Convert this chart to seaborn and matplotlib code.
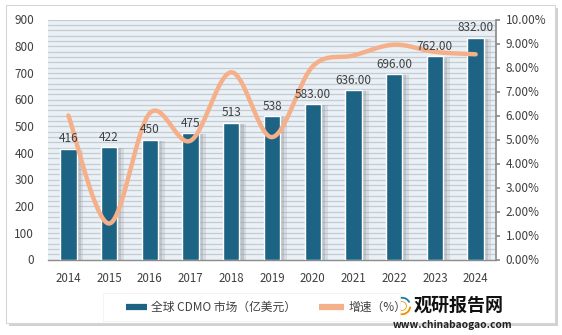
import numpy as np
import pandas as pd
import matplotlib
matplotlib.use("Agg")
import matplotlib.pyplot as plt
import matplotlib.patheffects as pe
from matplotlib.patches import Rectangle, Wedge
from matplotlib.ticker import MultipleLocator, FuncFormatter
import seaborn as sns

years = ["2014", "2015", "2016", "2017", "2018", "2019", "2020", "2021", "2022", "2023", "2024"]
market = [416, 422, 450, 475, 513, 538, 583, 636, 696, 762, 832]
market_labels = ["416", "422", "450", "475", "513", "538", "583.00", "636.00", "696.00", "762.00", "832.00"]
growth = [6.00, 1.50, 6.10, 4.95, 7.80, 5.10, 8.05, 8.50, 8.95, 8.65, 8.55]

bar_name = "全球 CDMO 市场（亿美元）"
line_name = "增速（%）"

sns.set_theme(style="white")
plt.rcParams["font.family"] = ["Noto Sans CJK SC", "DejaVu Sans"]

BAR = "#1C6384"
LINE = "#F5B08A"
TXT = "#404040"

fig = plt.figure(figsize=(5.62, 3.35), dpi=100)
fig.patch.set_facecolor("white")

# outer frame with shadow
frame = Rectangle((6 / 562, 1 - 323 / 335), (555 - 6) / 562, (323 - 5) / 335,
                  transform=fig.transFigure, facecolor="white", edgecolor="#D6D6D6",
                  linewidth=0.8, zorder=-10)
frame.set_path_effects([pe.SimplePatchShadow(offset=(2, -2), shadow_rgbFace="#9A9A9A", alpha=0.45), pe.Normal()])
fig.patches.append(frame)

ax = fig.add_axes([48 / 562, 1 - 259.5 / 335, (496 - 48) / 562, (259.5 - 19.5) / 335])
ax.set_facecolor("#EAF1F6")

df = pd.DataFrame({"year": years, "market": market})
sns.barplot(data=df, x="year", y="market", ax=ax, color=BAR, width=0.4,
            edgecolor="white", linewidth=1.0, saturation=1, zorder=3)
for p in ax.patches:
    p.set_path_effects([
        pe.SimplePatchShadow(offset=(5, -1), shadow_rgbFace="#9AA0A6", alpha=0.25),
        pe.SimplePatchShadow(offset=(3, -1), shadow_rgbFace="#8A9096", alpha=0.3),
        pe.Normal()])

ax.set_xlim(-0.5, len(years) - 0.5)
ax.set_ylim(0, 900)
ax.yaxis.set_major_locator(MultipleLocator(100))
ax.yaxis.set_minor_locator(MultipleLocator(20))
ax.grid(axis="y", which="both", color="#C5CBD1", linewidth=0.9, zorder=0)
ax.set_axisbelow(True)
ax.set_xlabel("")
ax.set_ylabel("")
for s in ["top", "left", "right"]:
    ax.spines[s].set_visible(False)
ax.spines["bottom"].set_color("#8C8C8C")
ax.spines["bottom"].set_linewidth(1.0)
ax.tick_params(axis="y", which="both", length=0, labelsize=8.5, labelcolor=TXT, pad=10)
ax.tick_params(axis="x", length=0, labelsize=8.3, labelcolor=TXT, pad=9)

# secondary axis with smoothed line
ax2 = ax.twinx()
ax2.set_ylim(0, 10)
ax2.yaxis.set_major_locator(MultipleLocator(1))
ax2.yaxis.set_major_formatter(FuncFormatter(lambda v, _: f"{v:.2f}%"))
ax2.tick_params(axis="y", length=3, color="#8C8C8C", labelsize=8.5, labelcolor=TXT, pad=4)
for s in ["top", "left", "bottom"]:
    ax2.spines[s].set_visible(False)
ax2.spines["right"].set_color("#8C8C8C")
ax2.grid(False)

# Excel-like smooth curve (Bezier through data points)
xs = np.arange(len(growth), dtype=float)
ys = np.array(growth, dtype=float)
px = np.concatenate([[xs[0]], xs, [xs[-1]]])
py = np.concatenate([[ys[0]], ys, [ys[-1]]])
cx, cy = [], []
t = np.linspace(0, 1, 40)
for i in range(len(xs) - 1):
    p0 = np.array([px[i + 1], py[i + 1]])
    p3 = np.array([px[i + 2], py[i + 2]])
    p1 = p0 + (np.array([px[i + 2], py[i + 2]]) - np.array([px[i], py[i]])) / 6
    p2 = p3 - (np.array([px[i + 3], py[i + 3]]) - np.array([px[i + 1], py[i + 1]])) / 6
    b = ((1 - t) ** 3)[:, None] * p0 + (3 * (1 - t) ** 2 * t)[:, None] * p1 + \
        (3 * (1 - t) * t ** 2)[:, None] * p2 + (t ** 3)[:, None] * p3
    cx.extend(b[:, 0]); cy.extend(b[:, 1])
sns.lineplot(x=cx, y=cy, ax=ax2, color=LINE, linewidth=3.2, sort=False, zorder=4)

# data labels
for i, (v, lab) in enumerate(zip(market, market_labels)):
    ax2.text(i, v + 12, lab, transform=ax.transData, ha="center", va="bottom",
             fontsize=8.5, color=TXT, zorder=10)

# legend box
lg = Rectangle((103 / 562, 1 - 321 / 335), (400 - 103) / 562, (321 - 293) / 335,
               transform=fig.transFigure, facecolor="white", edgecolor="#EEEEEE", linewidth=0.5, zorder=5)
fig.patches.append(lg)
ly = 1 - 307 / 335
fig.lines.append(plt.Line2D([126 / 562, 147 / 562], [ly, ly], transform=fig.transFigure,
                            color=BAR, linewidth=4.5, zorder=6, solid_capstyle="butt"))
fig.text(151 / 562, ly, bar_name, fontsize=8.5, color=TXT, va="center", ha="left", zorder=6)
fig.lines.append(plt.Line2D([319 / 562, 344 / 562], [ly, ly], transform=fig.transFigure,
                            color=LINE, linewidth=4.5, zorder=6, solid_capstyle="butt"))
fig.text(349 / 562, ly, line_name, fontsize=8.5, color=TXT, va="center", ha="left", zorder=6)

# watermark
fig.text(414 / 562, 1 - 305 / 335, "观研报告网", fontsize=13, fontweight="bold", color="#111111",
         va="center", ha="left", zorder=7)
fig.text(512 / 562, 1 - 325 / 335, "www.chinabaogao.com", fontsize=7.3, fontweight="bold",
         color="#222222", va="center", ha="right", zorder=7)
wax = fig.add_axes([391 / 562, 1 - 317 / 335, 22 / 562, 22 / 335])
wax.set_xlim(-1, 1); wax.set_ylim(-1, 1); wax.set_aspect("equal"); wax.axis("off")
wax.add_patch(Wedge((0, 0), 0.9, 200, 360, width=0.3, facecolor="#F29100"))
wax.add_patch(Wedge((0, 0), 0.9, 20, 180, width=0.3, facecolor="#1E7FA8"))
wax.add_patch(Wedge((0, 0), 0.5, 0, 360, width=0.2, facecolor="#F29100"))

fig.savefig("out.png", dpi=100)
